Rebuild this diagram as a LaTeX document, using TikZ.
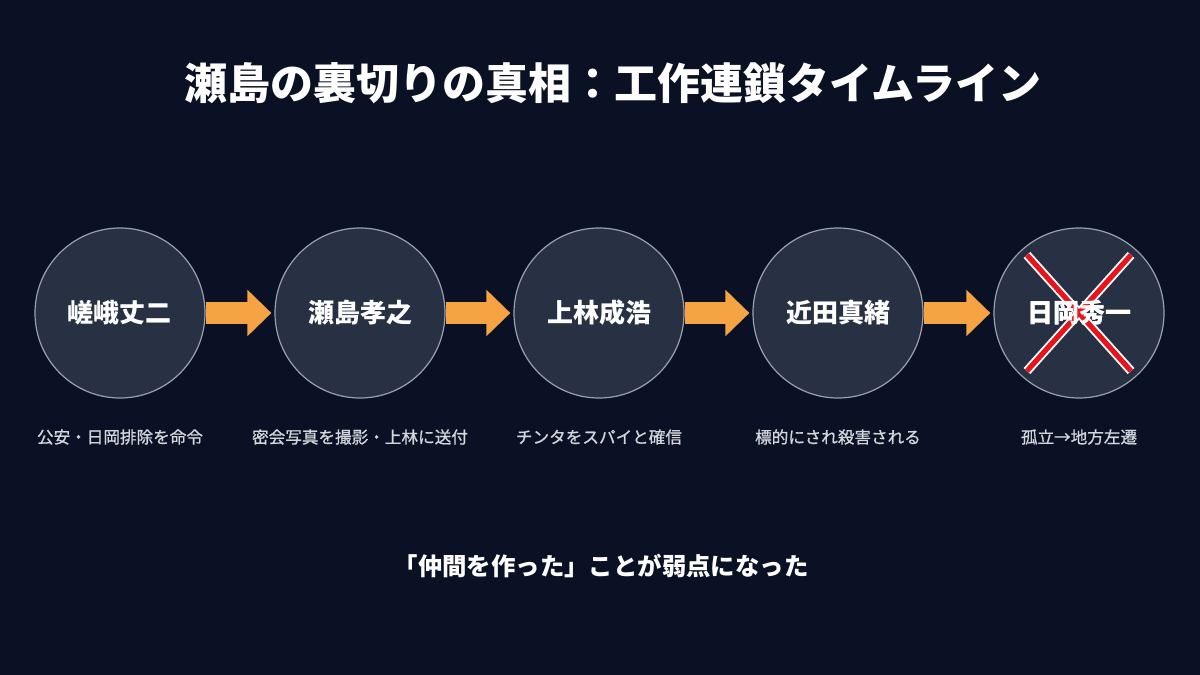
\documentclass[tikz,border=0pt]{standalone}
\usepackage{fontspec}
\setmainfont{Noto Sans CJK JP}
\newfontfamily\capfont[FakeBold=0.8]{Noto Sans CJK JP}
\usepackage{xcolor}
\usetikzlibrary{arrows.meta,positioning}
\definecolor{bgnavy}{HTML}{0A1124}
\definecolor{discfill}{HTML}{283143}
\definecolor{discline}{HTML}{9AA1AC}
\definecolor{flowor}{HTML}{F5A343}
\definecolor{capgray}{HTML}{D3D6DC}
\definecolor{crossred}{HTML}{E8141C}

\begin{document}
\begin{tikzpicture}[x=0.5pt, y=-0.5pt,
    person/.style={circle, draw=discline, line width=0.6pt, fill=discfill,
      minimum size=85pt, inner sep=0pt, text=white, font=\bfseries\fontsize{13}{15}\selectfont},
    caption/.style={text=capgray, font=\capfont\fontsize{8.3}{10}\selectfont},
    flow/.style={flowor, line width=11pt, -{Triangle[width=22.5pt, length=12pt]}}]
  % Background
  \fill[bgnavy] (0,0) rectangle (1200,675);
  \useasboundingbox (0,0) rectangle (1200,675);
  % Title
  \node[text=white, font=\bfseries\fontsize{21.5}{24}\selectfont] (title) at (613,83) {瀬島の裏切りの真相：工作連鎖タイムライン};
  % People
  \node[person] (saga)   at (120,313)  {嵯峨丈二};
  \node[person] (sejima) at (360,313)  {瀬島孝之};
  \node[person] (kami)   at (599,313)  {上林成浩};
  \node[person] (chika)  at (838,313)  {近田真緒};
  \node[person] (hioka)  at (1079,313) {日岡秀一};
  % Chain arrows
  \draw[flow] (saga.east)   -- ([xshift=-1.5pt]sejima.west);
  \draw[flow] (sejima.east) -- ([xshift=-1.5pt]kami.west);
  \draw[flow] (kami.east)   -- ([xshift=-1.5pt]chika.west);
  \draw[flow] (chika.east)  -- ([xshift=-1.5pt]hioka.west);
  % Cross over the last one
  \foreach \a/\b in {-52/-58, 52/-58}
    \draw[white, line width=4.5pt] ([shift={(\a,\b)}]hioka.center) -- ([shift={(-\a,-\b)}]hioka.center);
  \foreach \a/\b in {-52/-58, 52/-58}
    \draw[crossred, line width=2.6pt] ([shift={(\a,\b)}]hioka.center) -- ([shift={(-\a,-\b)}]hioka.center);
  \node[text=white, font=\bfseries\fontsize{13}{15}\selectfont] at (hioka) {日岡秀一};
  % Captions
  \node[caption] (c1) at (120,437)  {公安・日岡排除を命令};
  \node[caption] (c2) at (360,437)  {密会写真を撮影・上林に送付};
  \node[caption] (c3) at (599,437)  {チンタをスパイと確信};
  \node[caption] (c4) at (838,437)  {標的にされ殺害される};
  \node[caption] (c5) at (1079,437) {孤立→地方左遷};
  % Closing line
  \node[text=white, font=\bfseries\fontsize{12.2}{14}\selectfont] (moral) at (601,566) {「仲間を作った」ことが弱点になった};
\end{tikzpicture}
\end{document}
